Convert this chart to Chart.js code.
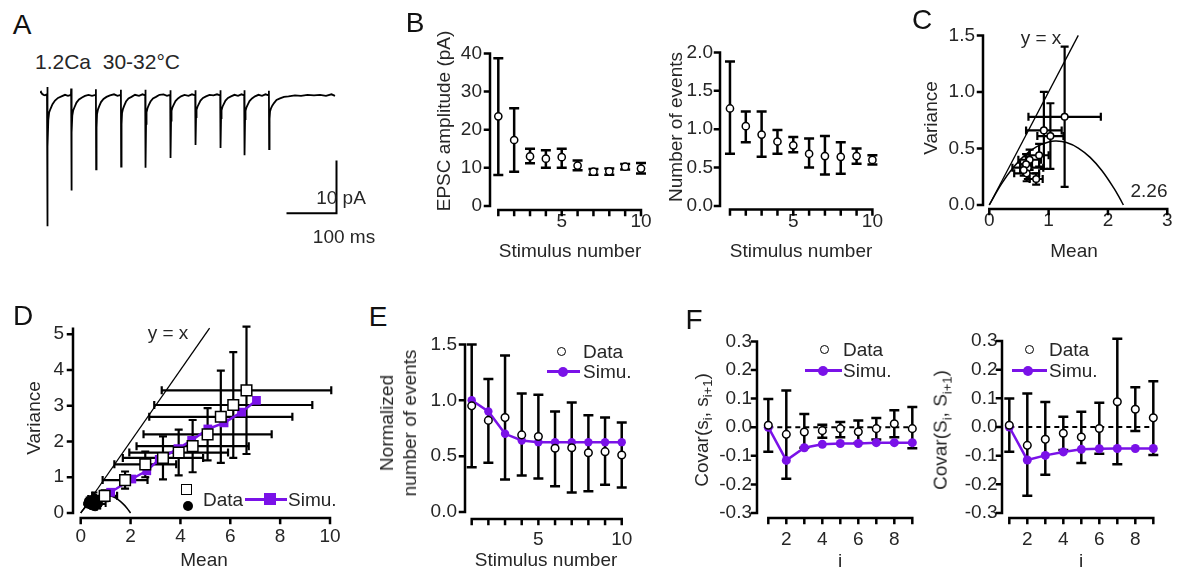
<!DOCTYPE html>
<html lang="en">
<head>
<meta charset="UTF-8">
<title>EPSC trains, 1.2Ca 30-32°C</title>
<script src="https://cdn.jsdelivr.net/npm/chart.js"></script>
<style>
  body { margin: 0; background: #fff; font-family: "Liberation Sans", Arial, sans-serif; color: #262626; }
  #fig { position: relative; width: 1178px; height: 572px; overflow: hidden; }
  canvas { position: absolute; }
  .t { position: absolute; font-size: 19px; line-height: 1; white-space: nowrap; transform: translate(-50%, -50%); }
  .rot { transform: translate(-50%, -50%) rotate(-90deg); text-align: center; }
  .lab { position: absolute; font-size: 28px; line-height: 1; transform: translate(-50%, -50%); color: #111; }
  .lt { position: absolute; font-size: 19px; line-height: 23px; white-space: nowrap; }
  .oc { position: absolute; box-sizing: border-box; border: 1.5px solid #000; background: #fff; border-radius: 50%; }
  .os { position: absolute; box-sizing: border-box; border: 1.5px solid #000; background: #fff; }
  .fc { position: absolute; background: #000; border-radius: 50%; }
  .pl { position: absolute; height: 2.5px; background: #7a12e8; }
  .pd { position: absolute; background: #7a12e8; border-radius: 50%; }
  .ps { position: absolute; background: #7a12e8; }
  sub { font-size: 13px; }
</style>
</head>
<body>
<div id="fig">
  <canvas id="cA"></canvas>
  <canvas id="cBL"></canvas>
  <canvas id="cBR"></canvas>
  <canvas id="cC"></canvas>
  <canvas id="cD"></canvas>
  <canvas id="cE"></canvas>
  <canvas id="cFL"></canvas>
  <canvas id="cFR"></canvas>

  <!-- panel letters -->
  <div class="lab" style="left:22px;top:25px">A</div>
  <div class="lab" style="left:415px;top:23px">B</div>
  <div class="lab" style="left:922px;top:20px">C</div>
  <div class="lab" style="left:23px;top:316px">D</div>
  <div class="lab" style="left:378px;top:317px">E</div>
  <div class="lab" style="left:694px;top:320px">F</div>

  <!-- A -->
  <div class="lt" style="left:35px;top:50px;font-size:21px">1.2Ca&nbsp;&nbsp;30-32°C</div>
  <div class="t" style="left:341px;top:197px">10 pA</div>
  <div class="t" style="left:344px;top:236px">100 ms</div>

  <!-- B -->
  <div class="t rot" style="left:443px;top:121px">EPSC amplitude (pA)</div>
  <div class="t" style="left:570px;top:250px">Stimulus number</div>
  <div class="t rot" style="left:675px;top:127px">Number of events</div>
  <div class="t" style="left:801px;top:250px">Stimulus number</div>

  <!-- C -->
  <div class="t rot" style="left:930px;top:118px">Variance</div>
  <div class="t" style="left:1074px;top:250px">Mean</div>
  <div class="t" style="left:1041px;top:37px">y = x</div>
  <div class="t" style="left:1149px;top:190px">2.26</div>

  <!-- D -->
  <div class="t rot" style="left:33px;top:418px">Variance</div>
  <div class="t" style="left:204px;top:559px">Mean</div>
  <div class="t" style="left:168px;top:332px">y = x</div>
  <div class="os" style="left:181px;top:484px;width:11px;height:11px"></div>
  <div class="fc" style="left:183px;top:501px;width:10px;height:10px"></div>
  <div class="lt" style="left:203px;top:488px">Data</div>
  <div class="pl" style="left:245px;top:498px;width:42px"></div>
  <div class="ps" style="left:264px;top:493px;width:12px;height:12px"></div>
  <div class="lt" style="left:288px;top:488px">Simu.</div>

  <!-- E -->
  <div class="t rot" style="left:398px;top:423px;line-height:23px">Normalized<br>number of events</div>
  <div class="t" style="left:546px;top:559px">Stimulus number</div>
  <div class="oc" style="left:557px;top:347px;width:9px;height:9px"></div>
  <div class="lt" style="left:583px;top:340px">Data</div>
  <div class="pl" style="left:547px;top:370px;width:33px"></div>
  <div class="pd" style="left:558px;top:367px;width:10px;height:10px"></div>
  <div class="lt" style="left:583px;top:360px">Simu.</div>

  <!-- F -->
  <div class="t rot" style="left:703px;top:430px">Covar(s<sub>i</sub>, s<sub>i+1</sub>)</div>
  <div class="t" style="left:840px;top:560px">i</div>
  <div class="oc" style="left:820px;top:345px;width:9px;height:9px"></div>
  <div class="lt" style="left:843px;top:338px">Data</div>
  <div class="pl" style="left:805px;top:369px;width:37px"></div>
  <div class="pd" style="left:818px;top:366px;width:10px;height:10px"></div>
  <div class="lt" style="left:843px;top:359px">Simu.</div>

  <div class="t rot" style="left:942px;top:430px">Covar(S<sub>i</sub>, S<sub>i+1</sub>)</div>
  <div class="t" style="left:1081px;top:560px">i</div>
  <div class="oc" style="left:1025px;top:345px;width:9px;height:9px"></div>
  <div class="lt" style="left:1049px;top:338px">Data</div>
  <div class="pl" style="left:1012px;top:369px;width:35px"></div>
  <div class="pd" style="left:1023px;top:366px;width:10px;height:10px"></div>
  <div class="lt" style="left:1049px;top:359px">Simu.</div>
</div>

<script>
// ---- data ----

// A: current trace, [time ms, current pA]
const traceData = [
  [0,0.5],[2,0.7],[4,0.3],[7,0.1],[10,0.0],[14.0,0.2],[14.5,1.6],[14.9,-25.3],[15.6,-10],[16.6,-4.8],[18.3,-3.3],[21,-2.6],[25,-1.7],[30,-1.0],[36,-0.5],[43,-0.2],[50,0.1],[56,-0.1],[61.9,0.1],
  [62.3,1.3],[62.8,-18.4],[63.6,-7.2],[64.6,-3.9],[66.4,-2.9],[69,-2.3],[73,-1.4],[78,-0.8],[84,-0.4],[90,-0.1],[97,0.1],[104,-0.1],[111.4,0.1],
  [111.8,1.2],[112.3,-14.3],[113.1,-6.2],[114.1,-3.6],[116,-2.7],[118.5,-2.1],[122,-1.3],[127,-0.7],[133,-0.3],[140,0.0],[148,0.2],[155,-0.1],[161.4,0.1],
  [161.8,1.1],[162.3,-13.8],[163.1,-5.6],[164.1,-3.4],[166,-2.6],[168.5,-2.0],[172,-1.2],[177,-0.6],[183,-0.3],[190,0.1],[198,-0.1],[205,0.2],[210.4,0.0],
  [210.8,1.1],[211.3,-14.0],[212.1,-5.5],[213.1,-3.3],[215,-2.5],[217.5,-1.9],[221,-1.2],[226,-0.6],[232,-0.3],[239,0.1],[247,0.2],[254,-0.1],[260.4,0.1],
  [260.8,1.0],[261.3,-12.1],[262.1,-4.9],[263.1,-3.0],[265,-2.3],[267.5,-1.8],[271,-1.1],[276,-0.6],[282,-0.2],[289,0.1],[297,-0.1],[304,0.2],[310.4,0.0],
  [310.8,1.0],[311.3,-9.6],[312.1,-4.2],[313.1,-2.8],[315,-2.2],[317.5,-1.7],[321,-1.0],[326,-0.5],[332,-0.2],[339,0.1],[347,0.0],[354,0.2],[360.4,0.0],
  [360.8,1.0],[361.3,-10.2],[362.1,-4.4],[363.1,-2.9],[365,-2.2],[367.5,-1.7],[371,-1.0],[376,-0.5],[382,-0.2],[389,0.1],[396,-0.1],[403,0.2],[408.4,0.0],
  [408.8,1.0],[409.3,-11.6],[410.1,-4.6],[411.1,-3.0],[413,-2.3],[415.5,-1.8],[419,-1.1],[424,-0.6],[430,-0.2],[437,0.1],[444,-0.1],[451,0.2],[457.4,0.0],
  [457.8,0.9],[458.3,-10.4],[459.1,-4.5],[460.1,-3.1],[462,-2.5],[464.5,-2.0],[468,-1.5],[473,-0.9],[480,-0.6],[488,-0.3],[497,-0.2],[510,0.0],[522,-0.1],[535,0.1],[548,0.0],[560,0.1],[572,-0.1],[583,0.2],[590,-0.1]
];
const scaleBarT = [593, 593, 493];
const scaleBarI = [-12.6, -22.8, -22.8];

// B
const stim = [1, 2, 3, 4, 5, 6, 7, 8, 9, 10];
const bAmpMean = [23.5, 17.3, 13.0, 12.4, 12.8, 10.6, 9.0, 9.1, 10.3, 9.8];
const bAmpHi = [38.7, 25.6, 15.0, 14.6, 15.0, 11.9, 9.7, 9.8, 11.0, 11.3];
const bAmpLo = [8.1, 9.0, 11.2, 10.0, 10.0, 9.4, 8.2, 8.2, 9.6, 8.5];
const bEvMean = [1.27, 1.04, 0.93, 0.84, 0.79, 0.68, 0.65, 0.64, 0.65, 0.60];
const bEvHi = [1.88, 1.23, 1.23, 0.99, 0.90, 0.88, 0.91, 0.83, 0.75, 0.66];
const bEvLo = [0.68, 0.83, 0.64, 0.68, 0.70, 0.50, 0.41, 0.42, 0.55, 0.54];

// C: mean-variance of event numbers
const cMean = [1.27, 1.03, 0.92, 0.84, 0.79, 0.68, 0.65, 0.63, 0.62, 0.58];
const cVar = [0.78, 0.61, 0.66, 0.44, 0.23, 0.40, 0.33, 0.28, 0.36, 0.31];
const cMeanErr = [0.61, 0.22, 0.30, 0.16, 0.11, 0.19, 0.26, 0.21, 0.10, 0.06];
const cVarErr = [0.62, 0.29, 0.34, 0.10, 0.05, 0.09, 0.10, 0.07, 0.09, 0.05];
const cFitX = [0, 0.2, 0.4, 0.6, 0.8, 1.0, 1.13, 1.3, 1.5, 1.7, 1.9, 2.1, 2.2, 2.26];
const cFitY = [0, 0.182, 0.329, 0.441, 0.517, 0.558, 0.565, 0.552, 0.504, 0.421, 0.303, 0.149, 0.058, 0];
const cUnityX = [0, 1.5];

// D
const dMean = [6.65, 6.12, 5.62, 5.09, 4.49, 3.93, 3.30, 2.59, 1.78, 0.96];
const dVar = [3.43, 3.02, 2.69, 2.20, 1.87, 1.69, 1.54, 1.36, 0.92, 0.48];
const dMeanErr = [3.4, 3.17, 2.87, 2.57, 2.25, 1.98, 1.61, 1.24, 0.9, 0.5];
const dVarErr = [1.78, 1.48, 1.29, 0.73, 0.73, 0.64, 0.6, 0.36, 0.24, 0.15];
const dSimX = [7.05, 6.45, 5.75, 5.1, 4.45, 3.9, 3.15, 2.65, 2.05, 1.2];
const dSimY = [3.15, 2.82, 2.52, 2.35, 2.03, 1.8, 1.5, 1.18, 0.95, 0.58];
const dBlkX = [0.55, 0.45, 0.62, 0.38, 0.7, 0.5, 0.32, 0.58, 0.42, 0.28];
const dBlkY = [0.42, 0.35, 0.30, 0.28, 0.25, 0.20, 0.33, 0.18, 0.22, 0.26];
const dBlkXErr = [0.25, 0.2, 0.22, 0.15, 0.3, 0.18, 0.12, 0.2, 0.15, 0.1];
const dBlkYErr = [0.15, 0.12, 0.1, 0.1, 0.12, 0.08, 0.1, 0.08, 0.08, 0.06];
const dFitX = [0, 0.3, 0.6, 0.9, 1.0, 1.3, 1.5, 1.7, 1.85, 2.0];
const dFitY = [0, 0.255, 0.42, 0.495, 0.5, 0.455, 0.375, 0.255, 0.139, 0];
const dUnityX = [0, 5.17];

// E
const eData = [0.95, 0.82, 0.845, 0.69, 0.676, 0.57, 0.575, 0.53, 0.54, 0.51];
const eHi = [1.50, 1.19, 1.40, 1.06, 1.05, 0.90, 0.98, 0.865, 0.845, 0.80];
const eLo = [0.40, 0.44, 0.29, 0.326, 0.30, 0.23, 0.175, 0.186, 0.245, 0.22];
const eSim = [1.0, 0.9, 0.7, 0.64, 0.625, 0.625, 0.625, 0.625, 0.625, 0.625];

// F
const fIdx = [1, 2, 3, 4, 5, 6, 7, 8, 9];
const fLData = [0.007, -0.025, -0.017, -0.012, -0.005, -0.016, -0.005, 0.012, -0.005];
const fLHi = [0.099, 0.128, 0.046, 0.009, 0.018, 0.023, 0.032, 0.059, 0.071];
const fLLo = [-0.086, -0.18, -0.072, -0.037, -0.035, -0.055, -0.043, -0.035, -0.074];
const fLSim = [0.0, -0.116, -0.072, -0.06, -0.057, -0.057, -0.054, -0.054, -0.054];
const fRData = [0.006, -0.064, -0.043, -0.022, -0.035, -0.005, 0.088, 0.062, 0.032];
const fRHi = [0.099, 0.117, 0.087, 0.036, 0.053, 0.085, 0.308, 0.139, 0.16];
const fRLo = [-0.086, -0.24, -0.167, -0.08, -0.126, -0.093, -0.13, -0.014, -0.098];
const fRSim = [0.0, -0.115, -0.099, -0.087, -0.078, -0.076, -0.075, -0.075, -0.075];
const fZeroX = [1, 9];

// ---- drawing ----
const purple = '#7a12e8';
Chart.defaults.font.family = '"Liberation Sans", Arial, sans-serif';
Chart.defaults.font.size = 19;
Chart.defaults.color = '#262626';

const pts = (xs, ys) => xs.map((v, i) => ({x: v, y: ys[i]}));
const minus = (a, e) => a.map((v, i) => v - e[i]);
const plus = (a, e) => a.map((v, i) => v + e[i]);

// detached prism-style axes + error bars, both placed with the chart's scales
const figPlugin = {
  id: 'fig',
  beforeDatasetsDraw(chart, args, o) {
    const {ctx, chartArea: a} = chart;
    const sx = chart.scales.x, sy = chart.scales.y;
    ctx.save();
    if (o.axes) {
      const ax = o.axes;
      ctx.strokeStyle = '#000';
      ctx.lineWidth = 2.5;
      ctx.lineCap = 'square';
      ctx.beginPath();
      ctx.moveTo(a.left, sy.getPixelForValue(ax.yFrom));
      ctx.lineTo(a.left, sy.getPixelForValue(ax.yTo));
      ax.yTicks.forEach(v => {
        const p = sy.getPixelForValue(v);
        ctx.moveTo(a.left, p);
        ctx.lineTo(a.left - 5, p);
      });
      const yy = a.bottom + ax.gap;
      ctx.moveTo(sx.getPixelForValue(ax.xFrom), yy);
      ctx.lineTo(sx.getPixelForValue(ax.xTo), yy);
      ax.xTicks.forEach(v => {
        const p = sx.getPixelForValue(v);
        ctx.moveTo(p, yy);
        ctx.lineTo(p, yy + 5);
      });
      ctx.stroke();
    }
    ctx.lineCap = 'butt';
    chart.data.datasets.forEach(ds => {
      const e = ds.err;
      if (!e) return;
      ctx.strokeStyle = e.color || '#000';
      ctx.lineWidth = e.lw;
      ds.data.forEach((p, i) => {
        const px = sx.getPixelForValue(p.x), py = sy.getPixelForValue(p.y);
        ctx.beginPath();
        if (e.yLo) {
          const t = sy.getPixelForValue(e.yHi[i]), b = sy.getPixelForValue(e.yLo[i]);
          ctx.moveTo(px, t); ctx.lineTo(px, b);
          ctx.moveTo(px - e.cap, t); ctx.lineTo(px + e.cap, t);
          ctx.moveTo(px - e.cap, b); ctx.lineTo(px + e.cap, b);
        }
        if (e.xLo) {
          const l = sx.getPixelForValue(e.xLo[i]), r = sx.getPixelForValue(e.xHi[i]);
          ctx.moveTo(l, py); ctx.lineTo(r, py);
          ctx.moveTo(l, py - e.cap); ctx.lineTo(l, py + e.cap);
          ctx.moveTo(r, py - e.cap); ctx.lineTo(r, py + e.cap);
        }
        ctx.stroke();
      });
    });
    ctx.restore();
  }
};

function makeChart(id, area, c) {
  const L = 70, T = 16, R = 26, B = 44;
  const cv = document.getElementById(id);
  cv.width = area.right - area.left + L + R;
  cv.height = area.bottom - area.top + T + B;
  cv.style.left = (area.left - L) + 'px';
  cv.style.top = (area.top - T) + 'px';
  c.datasets.forEach(ds => { ds.clip = false; });
  return new Chart(cv, {
    type: 'scatter',
    data: {datasets: c.datasets},
    options: {
      responsive: false,
      animation: false,
      events: [],
      layout: {padding: {left: 0, top: T, right: R, bottom: 0}},
      plugins: {
        legend: {display: false},
        tooltip: {enabled: false},
        fig: {axes: Object.assign({xTicks: c.xTicks, yTicks: c.yTicks}, c.axes)}
      },
      scales: {
        x: {
          type: 'linear', bounds: 'data', min: c.x[0], max: c.x[1],
          afterFit: s => { s.height = B; },
          afterBuildTicks: s => { s.ticks = c.xTicks.map(v => ({value: v})); },
          ticks: {
            padding: c.xPad, autoSkip: false, maxRotation: 0,
            callback: v => c.xLabels.includes(v) ? String(v) : ''
          },
          grid: {display: false, drawTicks: false},
          border: {display: false}
        },
        y: {
          type: 'linear', bounds: 'data', min: c.y[0], max: c.y[1],
          afterFit: s => { s.width = L; },
          afterBuildTicks: s => { s.ticks = c.yTicks.map(v => ({value: v})); },
          ticks: {padding: c.yPad, autoSkip: false, callback: c.yFmt},
          grid: {display: false, drawTicks: false},
          border: {display: false}
        }
      }
    },
    plugins: [figPlugin]
  });
}

const openCircle = (r) => ({pointRadius: r, pointBackgroundColor: '#fff', pointBorderColor: '#000', pointBorderWidth: 1.5, showLine: false});
const simLine = (r, style) => ({showLine: true, borderColor: purple, borderWidth: 2.5, pointStyle: style || 'circle',
  pointRadius: r, pointBackgroundColor: purple, pointBorderColor: purple, pointBorderWidth: 0});
const fmt1 = v => v.toFixed(1);

// A: trace with scale bars
new Chart(document.getElementById('cA'), {
  type: 'scatter',
  data: {datasets: [
    {data: traceData.map(p => ({x: p[0], y: p[1]})), showLine: true, borderColor: '#000', borderWidth: 1.8, pointRadius: 0},
    {data: pts(scaleBarT, scaleBarI), showLine: true, borderColor: '#000', borderWidth: 2, pointRadius: 0}
  ]},
  options: {
    responsive: false, animation: false, events: [],
    layout: {padding: 0},
    plugins: {legend: {display: false}, tooltip: {enabled: false}},
    scales: {
      x: {type: 'linear', display: false, min: 0, max: 600},
      y: {type: 'linear', display: false, min: -27, max: 2}
    }
  }
});
(() => {
  const cv = document.getElementById('cA');
  cv.style.left = '40px'; cv.style.top = '85px';
})();

// B left
makeChart('cBL', {left: 490, top: 50, right: 646, bottom: 206}, {
  x: [0.476, 10.315], y: [0, 40], xTicks: stim, xLabels: [5, 10], yTicks: [0, 10, 20, 30, 40],
  yFmt: v => String(v), xPad: 4, yPad: 8,
  axes: {gap: 4, xFrom: 1, xTo: 10, yFrom: 0, yTo: 40},
  datasets: [Object.assign({data: pts(stim, bAmpMean), err: {yLo: bAmpLo, yHi: bAmpHi, cap: 5, lw: 2.5}}, openCircle(3.6))]
});

// B right
makeChart('cBR', {left: 720, top: 50, right: 877, bottom: 206}, {
  x: [0.37, 10.29], y: [0, 2], xTicks: stim, xLabels: [5, 10], yTicks: [0, 0.5, 1, 1.5, 2],
  yFmt: fmt1, xPad: 4, yPad: 7,
  axes: {gap: 3.5, xFrom: 1, xTo: 10, yFrom: 0, yTo: 2},
  datasets: [Object.assign({data: pts(stim, bEvMean), err: {yLo: bEvLo, yHi: bEvHi, cap: 5, lw: 2.5}}, openCircle(3.6))]
});

// C
makeChart('cC', {left: 983, top: 32, right: 1170, bottom: 205}, {
  x: [-0.106, 3.046], y: [0, 1.5], xTicks: [0, 1, 2, 3], xLabels: [0, 1, 2, 3], yTicks: [0, 0.5, 1, 1.5],
  yFmt: fmt1, xPad: 4, yPad: 8,
  axes: {gap: 4, xFrom: 0, xTo: 3, yFrom: 0, yTo: 1.5},
  datasets: [
    Object.assign({data: pts(cMean, cVar), err: {
      xLo: minus(cMean, cMeanErr), xHi: plus(cMean, cMeanErr),
      yLo: minus(cVar, cVarErr), yHi: plus(cVar, cVarErr), cap: 4, lw: 2.2}}, openCircle(3.3)),
    {data: pts(cFitX, cFitY), showLine: true, tension: 0.35, borderColor: '#000', borderWidth: 1.5, pointRadius: 0},
    {data: pts(cUnityX, cUnityX), showLine: true, borderColor: '#000', borderWidth: 1.3, pointRadius: 0}
  ]
});

// D
makeChart('cD', {left: 73, top: 321, right: 334, bottom: 513}, {
  x: [-0.309, 10.16], y: [0, 5.246], xTicks: [0, 2, 4, 6, 8, 10], xLabels: [0, 2, 4, 6, 8, 10], yTicks: [0, 1, 2, 3, 4, 5],
  yFmt: v => String(v), xPad: 12, yPad: 9,
  axes: {gap: 5, xFrom: 0, xTo: 10, yFrom: 0, yTo: 5.15},
  datasets: [
    Object.assign({data: pts(dMean, dVar), pointStyle: 'rect', err: {
      xLo: minus(dMean, dMeanErr), xHi: plus(dMean, dMeanErr),
      yLo: minus(dVar, dVarErr), yHi: plus(dVar, dVarErr), cap: 4, lw: 2.2}}, openCircle(7.5)),
    Object.assign({data: pts(dSimX, dSimY)}, simLine(6.2, 'rect')),
    {data: pts(dBlkX, dBlkY), showLine: false, pointRadius: 4.2, pointBackgroundColor: '#000', pointBorderColor: '#000', err: {
      xLo: minus(dBlkX, dBlkXErr), xHi: plus(dBlkX, dBlkXErr),
      yLo: minus(dBlkY, dBlkYErr), yHi: plus(dBlkY, dBlkYErr), cap: 3, lw: 2}},
    {data: pts(dFitX, dFitY), showLine: true, tension: 0.35, borderColor: '#000', borderWidth: 1.5, pointRadius: 0},
    {data: pts(dUnityX, dUnityX), showLine: true, borderColor: '#000', borderWidth: 1.3, pointRadius: 0}
  ]
});

// E
makeChart('cE', {left: 465, top: 341, right: 627, bottom: 512}, {
  x: [0.598, 10.316], y: [0, 1.5], xTicks: stim, xLabels: [5, 10], yTicks: [0, 0.5, 1, 1.5],
  yFmt: fmt1, xPad: 16, yPad: 8,
  axes: {gap: 7, xFrom: 1, xTo: 10, yFrom: 0, yTo: 1.5},
  datasets: [
    Object.assign({data: pts(stim, eData), err: {yLo: eLo, yHi: eHi, cap: 5, lw: 2.5}}, openCircle(3.8)),
    Object.assign({data: pts(stim, eSim)}, simLine(4.2))
  ]
});

// F left
makeChart('cFL', {left: 757, top: 341, right: 916, bottom: 513}, {
  x: [0.372, 9.205], y: [-0.3, 0.3], xTicks: fIdx, xLabels: [2, 4, 6, 8], yTicks: [-0.3, -0.2, -0.1, 0, 0.1, 0.2, 0.3],
  yFmt: fmt1, xPad: 15, yPad: 5,
  axes: {gap: 5, xFrom: 1, xTo: 9, yFrom: -0.3, yTo: 0.3},
  datasets: [
    Object.assign({data: pts(fIdx, fLData), err: {yLo: fLLo, yHi: fLHi, cap: 5, lw: 2.5}}, openCircle(3.8)),
    Object.assign({data: pts(fIdx, fLSim)}, simLine(4.5)),
    {data: pts(fZeroX, [0, 0]), showLine: true, borderColor: '#000', borderWidth: 2, borderDash: [5, 4], pointRadius: 0}
  ]
});

// F right
makeChart('cFR', {left: 1002, top: 341, right: 1157, bottom: 513}, {
  x: [0.594, 9.205], y: [-0.3, 0.3], xTicks: fIdx, xLabels: [2, 4, 6, 8], yTicks: [-0.3, -0.2, -0.1, 0, 0.1, 0.2, 0.3],
  yFmt: fmt1, xPad: 15, yPad: 4.5,
  axes: {gap: 5, xFrom: 1, xTo: 9, yFrom: -0.3, yTo: 0.3},
  datasets: [
    Object.assign({data: pts(fIdx, fRData), err: {yLo: fRLo, yHi: fRHi, cap: 5, lw: 2.5}}, openCircle(3.8)),
    Object.assign({data: pts(fIdx, fRSim)}, simLine(4.5)),
    {data: pts(fZeroX, [0, 0]), showLine: true, borderColor: '#000', borderWidth: 2, borderDash: [5, 4], pointRadius: 0}
  ]
});
</script>
</body>
</html>
